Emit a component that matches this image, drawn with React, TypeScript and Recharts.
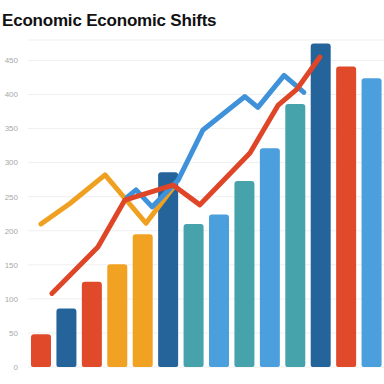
import { BarChart, Bar, Cell, LineChart, Line, XAxis, YAxis, CartesianGrid } from "recharts";

// bar categories and values (hidden x labels)
const periods = ["P1", "P2", "P3", "P4", "P5", "P6", "P7", "P8", "P9", "P10", "P11", "P12", "P13", "P14"];
const barValues = [48, 86, 125, 151, 195, 286, 210, 224, 273, 321, 386, 475, 441, 424];
const barColors = [
    "#e04a2b", "#25649a", "#e04a2b", "#f2a222", "#f2a222", "#25649a", "#46a3ab",
    "#4b9fdd", "#46a3ab", "#4b9fdd", "#46a3ab", "#25649a", "#e04a2b", "#4b9fdd"
];

const yTicks = [0, 50, 100, 150, 200, 250, 300, 350, 400, 450];

// line series, x in bar-slot units
const redX = [0.44, 2.25, 3.31, 5.2, 6.26, 8.23, 9.33, 10.08, 10.98];
const redValues = [108, 176, 245, 267, 238, 314, 384, 408, 455];
const blueX = [3.39, 3.75, 4.38, 5.4, 6.38, 8.03, 8.54, 9.57, 10.35];
const blueValues = [249, 260, 235, 274, 348, 397, 381, 428, 403];
const orangeX = [0.01, 1.15, 2.53, 4.14, 5.24];
const orangeValues = [210, 240, 282, 211, 265];

const W = 384;
const H = 384;
const TOP = 40;
const BOTTOM = 17;
const AXIS_W = 28;
const DOMAIN: [number, number] = [0, 480];

type Row = { x: number; red?: number; blue?: number; orange?: number };

function buildLineRows(): Row[] {
    const rows: Row[] = [];
    redX.forEach((x, i) => rows.push({ x, red: redValues[i] }));
    blueX.forEach((x, i) => rows.push({ x, blue: blueValues[i] }));
    orangeX.forEach((x, i) => rows.push({ x, orange: orangeValues[i] }));
    return rows.sort((a, b) => a.x - b.x);
}

export default function App() {
    const barData = periods.map((name, i) => ({ name, value: barValues[i] }));
    const lineRows = buildLineRows();

    const lineStyle = { strokeLinecap: "round" as const, strokeLinejoin: "round" as const };

    return (
        <div style={{ position: "absolute", left: 0, top: 0, width: W, height: H, fontFamily: "'Liberation Sans', Arial, sans-serif", overflow: "hidden" }}>
            <div style={{ position: "absolute", left: 2, top: 11, fontSize: 17, fontWeight: 700, color: "#111", whiteSpace: "nowrap", letterSpacing: -0.2 }}>
                Economic Economic Shifts
            </div>

            <div style={{ position: "absolute", left: 0, top: 0 }}>
                <BarChart width={W} height={H} data={barData} margin={{ top: TOP, right: 0, bottom: BOTTOM, left: 0 }}>
                    <CartesianGrid vertical={false} stroke="#efefef" strokeWidth={1} />
                    <XAxis dataKey="name" hide />
                    <YAxis
                        width={AXIS_W}
                        domain={DOMAIN}
                        ticks={yTicks}
                        axisLine={false}
                        tickLine={false}
                        tickSize={0}
                        tickMargin={10}
                        tick={{ fontSize: 8, fill: "#a8a8a8" }}
                    />
                    <Bar dataKey="value" barSize={20} radius={[3, 3, 2, 2]} isAnimationActive={false}>
                        {barData.map((entry, i) => (
                            <Cell key={entry.name} fill={barColors[i]} />
                        ))}
                    </Bar>
                </BarChart>
            </div>

            <div style={{ position: "absolute", left: 0, top: 0 }}>
                <LineChart width={W} height={H} data={lineRows} margin={{ top: TOP, right: 0, bottom: BOTTOM, left: AXIS_W }}>
                    <XAxis dataKey="x" type="number" domain={[-0.5, 13.5]} hide />
                    <YAxis domain={DOMAIN} hide />
                    <Line type="linear" dataKey="orange" stroke="#f0a021" strokeWidth={5} dot={false} connectNulls isAnimationActive={false} {...lineStyle} />
                    <Line type="linear" dataKey="blue" stroke="#3f92da" strokeWidth={5} dot={false} connectNulls isAnimationActive={false} {...lineStyle} />
                    <Line type="linear" dataKey="red" stroke="#df4527" strokeWidth={5} dot={false} connectNulls isAnimationActive={false} {...lineStyle} />
                </LineChart>
            </div>
        </div>
    );
}
